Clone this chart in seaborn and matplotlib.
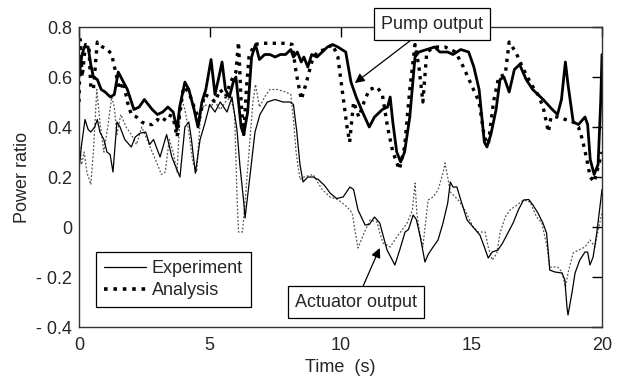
import numpy as np
import pandas as pd
import seaborn as sns
import matplotlib.pyplot as plt
from matplotlib.lines import Line2D

# pump output, experiment (thick solid)
pump_exp_t = [0.0, 0.1, 0.2, 0.35, 0.45, 0.55, 0.7, 0.85, 1.0, 1.2, 1.35, 1.5, 1.65, 1.85, 2.1,
              2.3, 2.5, 2.65, 2.8, 3.0, 3.2, 3.4, 3.6, 3.75, 3.85, 4.05, 4.2, 4.4, 4.55, 4.7,
              4.85, 5.05, 5.2, 5.35, 5.47, 5.6, 5.75, 5.9, 6.0, 6.1, 6.2, 6.3, 6.45, 6.6, 6.75,
              6.9, 7.1, 7.3, 7.5, 7.7, 7.9, 8.1, 8.2, 8.35, 8.5, 8.6, 8.75, 8.9, 9.1, 9.3,
              9.5, 9.7, 9.9, 10.2, 10.4, 10.6, 10.8, 11.1, 11.3, 11.6, 11.8, 11.9, 12.0, 12.15,
              12.3, 12.45, 12.65, 12.85, 13.0, 13.3, 13.6, 13.8, 14.1, 14.3, 14.6, 14.9, 15.1,
              15.3, 15.5, 15.6, 15.75, 15.95, 16.1, 16.25, 16.45, 16.65, 16.85, 17.1, 17.35,
              17.75, 18.1, 18.3, 18.45, 18.6, 18.7, 18.9, 19.1, 19.35, 19.45, 19.55, 19.7,
              19.85, 19.95, 20.0]
pump_exp_v = [0.6, 0.68, 0.72, 0.72, 0.65, 0.6, 0.59, 0.55, 0.54, 0.52, 0.53, 0.62, 0.59, 0.55, 0.47,
              0.48, 0.51, 0.49, 0.47, 0.45, 0.46, 0.48, 0.46, 0.39, 0.48, 0.58, 0.55, 0.47, 0.4, 0.5,
              0.55, 0.67, 0.53, 0.6, 0.66, 0.55, 0.52, 0.58, 0.6, 0.5, 0.4, 0.37, 0.46, 0.68, 0.73,
              0.67, 0.69, 0.69, 0.68, 0.69, 0.69, 0.71, 0.68, 0.7, 0.66, 0.68, 0.64, 0.69, 0.68, 0.7,
              0.72, 0.73, 0.72, 0.7, 0.58, 0.52, 0.47, 0.4, 0.44, 0.47, 0.48, 0.52, 0.42, 0.3,
              0.26, 0.3, 0.44, 0.68, 0.7, 0.71, 0.72, 0.7, 0.7, 0.69, 0.71, 0.7, 0.64,
              0.55, 0.34, 0.32, 0.37, 0.47, 0.59, 0.6, 0.54, 0.63, 0.65, 0.59, 0.55,
              0.51, 0.47, 0.45, 0.51, 0.66, 0.57, 0.42, 0.41, 0.44, 0.41, 0.27, 0.21,
              0.25, 0.5, 0.69]

# pump output, analysis (thick dotted)
pump_ana_t = [0.0, 0.05, 0.12, 0.25, 0.38, 0.45, 0.55, 0.7, 0.9, 1.1, 1.25, 1.4, 1.55, 1.7, 1.85,
              2.0, 2.2, 2.4, 2.6, 2.8, 3.0, 3.2, 3.4, 3.6, 3.75, 3.85, 4.0, 4.2, 4.4, 4.6,
              4.8, 5.0, 5.2, 5.4, 5.6, 5.8, 6.0, 6.1, 6.2, 6.3, 6.4, 6.5, 6.7, 7.0, 7.5,
              8.0, 8.15, 8.3, 8.5, 8.7, 8.9, 9.1, 9.4, 9.7, 9.9, 10.05, 10.25, 10.35, 10.5,
              10.7, 10.9, 11.1, 11.4, 11.6, 11.8, 12.0, 12.25, 12.45, 12.65, 12.85, 13.0, 13.15,
              13.3, 13.6, 14.0, 14.4, 14.7, 15.0, 15.3, 15.5, 15.65, 15.85, 16.05, 16.3, 16.45,
              16.7, 17.0, 17.3, 17.55, 17.75, 17.95, 18.05, 18.3, 18.6, 18.9, 19.1, 19.25, 19.4,
              19.55, 19.7, 19.85, 20.0]
pump_ana_v = [0.5, 0.75, 0.6, 0.73, 0.72, 0.56, 0.55, 0.74, 0.72, 0.71, 0.69, 0.62, 0.55, 0.58, 0.5,
              0.45, 0.44, 0.42, 0.41, 0.41, 0.43, 0.42, 0.45, 0.44, 0.36, 0.45, 0.56, 0.54, 0.48, 0.43,
              0.53, 0.52, 0.5, 0.55, 0.52, 0.58, 0.62, 0.74, 0.5, 0.37, 0.55, 0.68, 0.73, 0.735, 0.735,
              0.735, 0.73, 0.62, 0.51, 0.58, 0.66, 0.7, 0.71, 0.73, 0.68, 0.56, 0.4, 0.34, 0.5,
              0.44, 0.5, 0.55, 0.56, 0.53, 0.4, 0.3, 0.23, 0.32, 0.55, 0.73, 0.64, 0.5,
              0.7, 0.72, 0.72, 0.7, 0.64, 0.57, 0.5, 0.36, 0.33, 0.5, 0.6, 0.61, 0.74,
              0.7, 0.63, 0.57, 0.53, 0.48, 0.38, 0.44, 0.44, 0.43, 0.42, 0.4, 0.35, 0.28,
              0.2, 0.18, 0.24, 0.3]

# actuator output, experiment (thin solid)
act_exp_t = [0.0, 0.1, 0.23, 0.35, 0.45, 0.6, 0.7, 0.8, 0.95, 1.07, 1.19, 1.3, 1.45, 1.57, 1.75,
             2.0, 2.15, 2.33, 2.55, 2.7, 2.85, 3.1, 3.35, 3.55, 3.86, 4.05, 4.2, 4.3, 4.45, 4.63,
             4.8, 5.0, 5.2, 5.4, 5.66, 5.85, 6.04, 6.15, 6.3, 6.35, 6.5, 6.73, 6.92, 7.2, 7.5,
             7.8, 8.07, 8.2, 8.33, 8.45, 8.57, 8.75, 8.95, 9.15, 9.4, 9.6, 9.85, 10.1, 10.36,
             10.5, 10.67, 10.94, 11.1, 11.3, 11.5, 11.78, 12.08, 12.27, 12.47, 12.6, 12.78, 12.9,
             13.05, 13.23, 13.35, 13.54, 13.73, 13.92, 14.1, 14.2, 14.3, 14.45, 14.6, 14.84, 15.07,
             15.33, 15.5, 15.65, 15.8, 16.02, 16.2, 16.4, 16.6, 16.8, 17.0, 17.2, 17.36, 17.55,
             17.74, 17.88, 17.95, 18.0, 18.2, 18.47, 18.58, 18.66, 18.7, 18.85, 18.97, 19.15,
             19.35, 19.45, 19.54, 19.66, 19.8, 19.92, 20.0]
act_exp_v = [0.23, 0.33, 0.43, 0.39, 0.38, 0.4, 0.43, 0.38, 0.35, 0.3, 0.29, 0.22, 0.42, 0.4, 0.35,
             0.32, 0.36, 0.375, 0.38, 0.33, 0.35, 0.28, 0.37, 0.28, 0.2, 0.4, 0.42, 0.35, 0.215, 0.35,
             0.41, 0.49, 0.46, 0.5, 0.46, 0.52, 0.39, 0.25, 0.1, 0.036, 0.17, 0.38, 0.45, 0.5, 0.51,
             0.5, 0.5, 0.49, 0.38, 0.25, 0.18, 0.2, 0.2, 0.19, 0.165, 0.136, 0.114, 0.12, 0.16,
             0.15, 0.068, 0.008, 0.01, 0.04, 0.016, -0.092, -0.152, -0.09, -0.02, -0.01, 0.048, 0.03,
             -0.04, -0.14, -0.11, -0.08, -0.052, 0.016, 0.096, 0.18, 0.16, 0.16, 0.108, 0.028, 0.0,
             -0.032, -0.08, -0.124, -0.1, -0.092, -0.064, -0.024, 0.016, 0.068, 0.108, 0.11, 0.088, 0.056,
             0.016, -0.024, -0.104, -0.172, -0.18, -0.184, -0.212, -0.32, -0.352, -0.264, -0.184, -0.132,
             -0.1, -0.1, -0.152, -0.12, -0.024, 0.08, 0.15]

# actuator output, analysis (thin dotted)
act_ana_t = [0.0, 0.1, 0.2, 0.3, 0.45, 0.55, 0.68, 0.8, 0.95, 1.1, 1.25, 1.35, 1.45, 1.6, 1.8,
             2.0, 2.2, 2.4, 2.6, 2.8, 3.0, 3.15, 3.3, 3.45, 3.6, 3.75, 3.9, 4.05, 4.2, 4.35,
             4.5, 4.65, 4.8, 5.0, 5.2, 5.4, 5.6, 5.8, 5.95, 6.05, 6.1, 6.25, 6.35, 6.5, 6.65,
             6.75, 6.9, 7.1, 7.3, 7.6, 7.9, 8.1, 8.2, 8.3, 8.45, 8.6, 8.95, 9.3, 9.6, 9.9,
             10.25, 10.45, 10.55, 10.67, 10.9, 11.13, 11.4, 11.5, 11.63, 11.9, 12.15, 12.35, 12.55,
             12.75, 12.85, 12.92, 13.03, 13.15, 13.35, 13.54, 13.73, 13.92, 14.0, 14.2, 14.5, 14.76,
             15.07, 15.26, 15.53, 15.65, 15.8, 15.98, 16.1, 16.3, 16.48, 16.75, 17.0, 17.25, 17.5,
             17.7, 17.9, 18.0, 18.3, 18.47, 18.6, 18.7, 18.9, 19.1, 19.35, 19.54, 19.73, 19.85, 20.0]
act_ana_v = [0.35, 0.25, 0.3, 0.22, 0.17, 0.3, 0.55, 0.42, 0.3, 0.4, 0.52, 0.48, 0.37, 0.45, 0.4,
             0.37, 0.33, 0.4, 0.35, 0.3, 0.25, 0.21, 0.22, 0.35, 0.3, 0.22, 0.52, 0.47, 0.38, 0.26,
             0.22, 0.45, 0.49, 0.48, 0.5, 0.47, 0.5, 0.52, 0.45, 0.1, -0.02, -0.02, 0.1, 0.3, 0.5,
             0.57, 0.48, 0.52, 0.55, 0.55, 0.54, 0.53, 0.43, 0.3, 0.19, 0.2, 0.21, 0.15, 0.12, 0.11,
             0.08, 0.056, -0.012, -0.084, -0.024, 0.028, 0.02, -0.024, -0.064, -0.08, -0.04, -0.012, 0.016,
             0.068, 0.176, 0.056, -0.024, -0.08, 0.108, 0.12, 0.148, 0.216, 0.256, 0.14, 0.108, 0.068,
             0.0, -0.02, -0.02, -0.08, -0.132, -0.104, -0.024, 0.04, 0.068, 0.088, 0.108, 0.1, 0.04,
             0.016, -0.08, -0.16, -0.16, -0.18, -0.24, -0.184, -0.104, -0.092, -0.08, -0.052, -0.08, -0.012, 0.056]

x_ticks = [0, 5, 10, 15, 20]
y_ticks = [0.8, 0.6, 0.4, 0.2, 0.0, -0.2, -0.4]
y_tick_labels = ['0.8', '0.6', '0.4', '0.2', '0', '- 0.2', '- 0.4']

sns.set_theme(style='white')
plt.rcParams['font.family'] = ['Liberation Sans', 'DejaVu Sans']
plt.rcParams['font.size'] = 13

fig = plt.figure(figsize=(6.25, 3.81), dpi=100)
ax = fig.add_axes([0.1264, 0.1417, 0.8368, 0.7874])

dot_thick = (0, (1.0, 1.6))
dot_thin = (0, (1.5, 1.5))

sns.lineplot(x=act_ana_t, y=act_ana_v, ax=ax, color='#555555', lw=0.9,
             linestyle=dot_thin, errorbar=None)
sns.lineplot(x=act_exp_t, y=act_exp_v, ax=ax, color='black', lw=0.9, errorbar=None)
sns.lineplot(x=pump_ana_t, y=pump_ana_v, ax=ax, color='black', lw=2.4,
             linestyle=dot_thick, errorbar=None)
sns.lineplot(x=pump_exp_t, y=pump_exp_v, ax=ax, color='black', lw=2.0, errorbar=None)

ax.set_xlim(0, 20)
ax.set_ylim(-0.4, 0.8)
ax.set_xticks(x_ticks)
ax.set_yticks(y_ticks)
ax.set_yticklabels(y_tick_labels)
ax.tick_params(direction='in', top=True, right=True, length=7, width=1, color='black',
               labelsize=13)
ax.tick_params(axis='x', pad=7)
ax.tick_params(axis='y', pad=5)
for s in ax.spines.values():
    s.set_color('#333333')
    s.set_linewidth(1)

ax.set_xlabel('Time  (s)', fontsize=13, labelpad=4)
ax.set_ylabel('Power ratio', fontsize=13, labelpad=4)

handles = [Line2D([], [], color='black', lw=0.9),
           Line2D([], [], color='black', lw=2.6, linestyle=dot_thick)]
leg = ax.legend(handles, ['Experiment', 'Analysis'], loc='lower left',
                bbox_to_anchor=(0.0325, 0.0667), borderaxespad=0, fancybox=False,
                framealpha=1, edgecolor='black', handlelength=2.3, handletextpad=0.35,
                labelspacing=0.25, borderpad=0.45, fontsize=13)
leg.get_frame().set_linewidth(0.9)

box = dict(boxstyle='square,pad=0.4', fc='white', ec='black', lw=0.9)
arrow = dict(arrowstyle='-|>', color='black', lw=0.9, mutation_scale=14, shrinkA=0, shrinkB=0)
ax.annotate('Pump output', xy=(10.55, 0.576), xytext=(13.5, 0.812), ha='center', va='center',
            fontsize=13, bbox=box, arrowprops=arrow, annotation_clip=False)
ax.annotate('Actuator output', xy=(11.5, -0.084), xytext=(10.6, -0.3), ha='center', va='center',
            fontsize=13, bbox=box, arrowprops=arrow)

fig.savefig('out.png', dpi=100)
